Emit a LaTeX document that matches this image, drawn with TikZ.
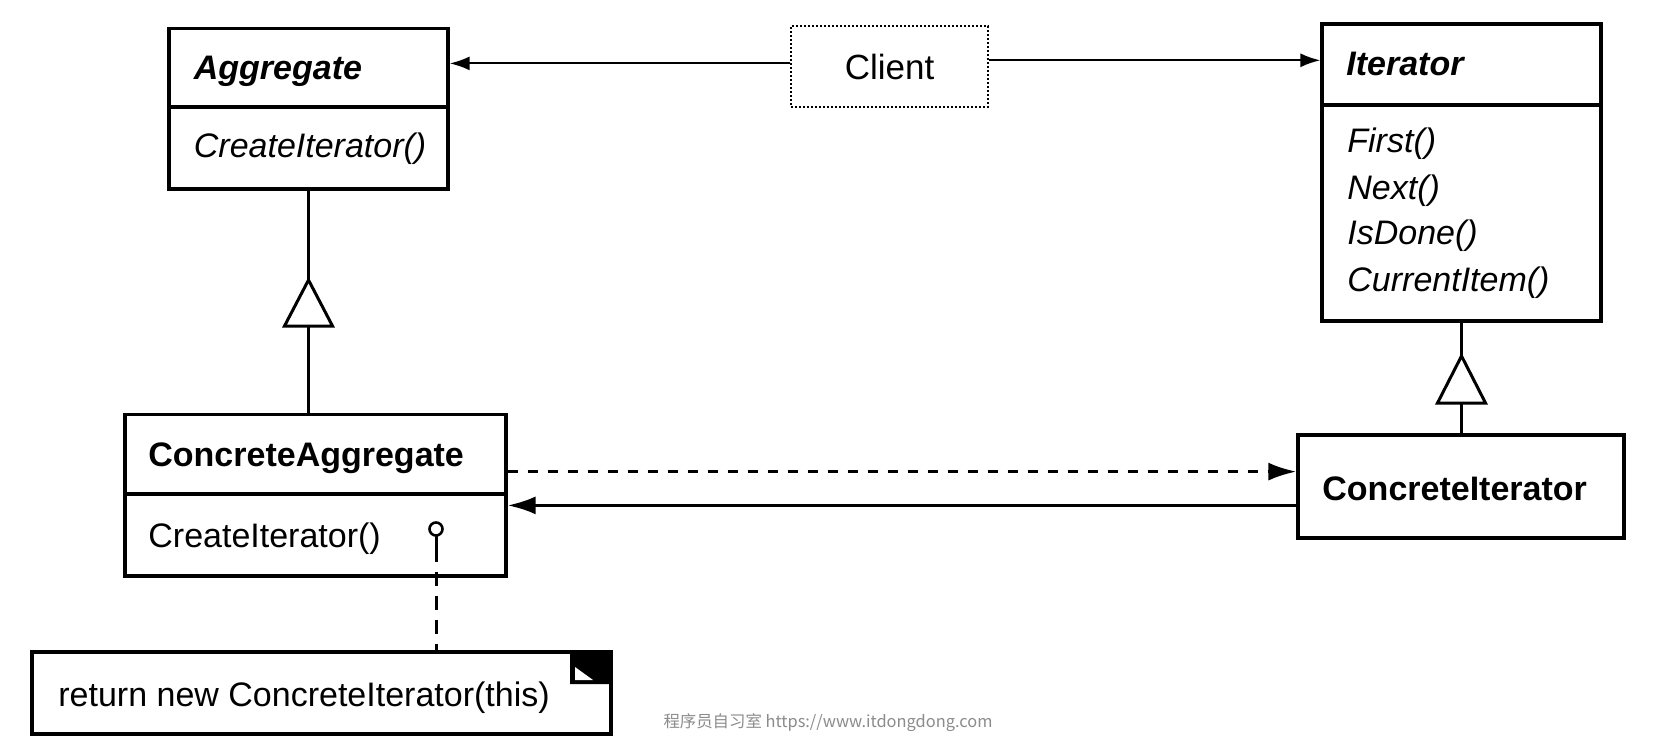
\documentclass[tikz,border=0pt]{standalone}
\usepackage{fontspec}
\setmainfont{Liberation Sans}
\newfontfamily\cjkfont{Noto Sans CJK SC}
\usetikzlibrary{arrows.meta,fit}
\begin{document}
\begin{tikzpicture}[x=0.5pt,y=-0.5pt,
  classbox/.style={draw=black,line width=1.6pt,inner sep=0pt},
  clientbox/.style={draw=black,line width=1pt,densely dotted,inner sep=0pt},
  lbl/.style={anchor=base west,inner sep=0pt,font=\fontsize{17}{20}\selectfont},
  conn/.style={draw=black,line width=1.5pt},
  thinconn/.style={draw=black,line width=1.1pt},
  dashconn/.style={draw=black,line width=1.5pt,dash pattern=on 5pt off 5pt},
  tipbig/.style={-{Latex[length=14pt,width=9pt]}},
  tipsmall/.style={-{Latex[length=10pt,width=7pt]}},
]
\useasboundingbox (0,0) rectangle (1658,754);
\fill[white] (0,0) rectangle (1658,754);

% class boxes
\node[classbox,fit={(169,28.5) (448,189)}] (agg) {};
\node[clientbox,fit={(791,26) (988,107)}] (client) {};
\node[classbox,fit={(1322,24) (1601,321)}] (iter) {};
\node[classbox,fit={(125,414.5) (506,576)}] (ca) {};
\node[classbox,fit={(1298,435) (1624,538)}] (ci) {};
\node[classbox,fit={(32,652) (611,734)}] (note) {};

% dividers
\draw[line width=1.6pt] (agg.west |- 0,107) -- (agg.east |- 0,107);
\draw[line width=1.6pt] (iter.west |- 0,105) -- (iter.east |- 0,105);
\draw[line width=1.6pt] (ca.west |- 0,494) -- (ca.east |- 0,494);

% texts
\node[lbl] (aggname) at (193.5,80) {\bfseries\itshape Aggregate};
\node[lbl] (aggop) at (193.5,158) {\itshape CreateIterator()};
\node[inner sep=0pt,font=\fontsize{17.5}{20}\selectfont] (clienttxt) at (client.center) {Client};
\node[lbl] (itername) at (1346,75.4) {\bfseries\itshape Iterator};
\node[lbl] (m1) at (1347,152.6) {\itshape First()};
\node[lbl] (m2) at (1347,199) {\itshape Next()};
\node[lbl] (m3) at (1347,244.6) {\itshape IsDone()};
\node[lbl] (m4) at (1347,291) {\itshape CurrentItem()};
\node[lbl] (caname) at (148,466.7) {\bfseries ConcreteAggregate};
\node[lbl] (caop) at (148,547) {CreateIterator()};
\node[lbl] (ciname) at (1322,500.5) {\bfseries ConcreteIterator};
\node[lbl] (notetxt) at (58,706.7) {return new ConcreteIterator(this)};

% note folded corner
\fill[black] (570,652) -- (note.north east) -- (611,684) -- (570,684) -- cycle;
\fill[white] (575,667) -- (593,680) -- (575,680) -- cycle;

% client associations
\draw[thinconn,tipsmall] (client.west |- 0,63.4) -- (agg.east |- 0,63.4);
\draw[thinconn,tipsmall] (client.east |- 0,60.3) -- (iter.west |- 0,60.3);

% inheritance Aggregate
\coordinate (tA) at (agg.south |- 0,280);
\draw[conn] (agg.south) -- (tA);
\draw[conn,line join=miter] (tA) -- ++(-24,46) -- ++(48,0) -- cycle;
\draw[conn] ([yshift=-23pt]tA) -- (tA |- ca.north);

% inheritance Iterator
\coordinate (tI) at (iter.south |- 0,356);
\draw[conn] (iter.south) -- (tI);
\draw[conn,line join=miter] (tI) -- ++(-24,47) -- ++(48,0) -- cycle;
\draw[conn] ([yshift=-23.5pt]tI) -- (tI |- ci.north);

% ConcreteAggregate <-> ConcreteIterator
\draw[dashconn,tipbig] (ca.east |- 0,471.6) -- (ci.west |- 0,471.6);
\draw[conn,tipbig] (ci.west |- 0,505.4) -- (ca.east |- 0,505.4);

% implementation note pin
\draw[line width=1.3pt,fill=white] (436,529) circle[radius=6.5];
\coordinate (pin) at (436,535.5);
\coordinate (pinend) at (436,548);
\draw[conn] (pin) -- (pinend);
\draw[line width=1.5pt,dash pattern=on 7pt off 5pt] (pinend) -- (pinend |- note.north);

% watermark
\node[font=\cjkfont\fontsize{8.2}{10}\selectfont,text=black!45,inner sep=0pt] (wm) at (828,723) {程序员自习室 https://www.itdongdong.com};
\end{tikzpicture}
\end{document}
